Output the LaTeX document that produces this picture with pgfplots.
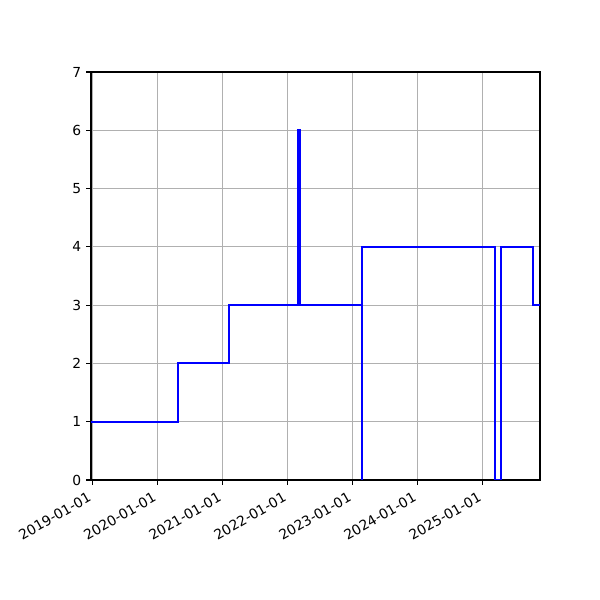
\documentclass[border=0pt]{standalone}
\usepackage{fontspec}
\setmainfont{DejaVu Sans}
\usepackage{pgfplots}
\pgfplotsset{compat=1.18}
\begin{document}
\begin{tikzpicture}
\path (0,0) rectangle (6in,6in);
\begin{axis}[
  at={(0.91in,1.20in)}, anchor=south west,
  scale only axis, width=4.49in, height=4.08in,
  xmin=-7, xmax=2515, ymin=0, ymax=7,
  xtick={0,365,731,1096,1461,1826,2192},
  xticklabels={2019-01-01,2020-01-01,2021-01-01,2022-01-01,2023-01-01,2024-01-01,2025-01-01},
  ytick={0,1,...,7},
  x tick label style={rotate=30, anchor=north east, xshift=-3.5pt, inner sep=2pt, font=\fontsize{10}{12}\selectfont},
  y tick label style={font=\fontsize{10}{12}\selectfont},
  /pgf/number format/assume math mode=true,
  grid=major, grid style={color=black!31, line width=0.8pt},
  axis line style={line width=0.8pt},
  tick style={black, line width=0.8pt},
  tick align=outside, major tick length=3.5pt,
  xtick pos=bottom, ytick pos=left,
]
\addplot[const plot mark left, color=blue, line width=1.5pt] coordinates {
  (-7,1) (480,2) (768,3) (1157,6) (1166,3) (1514,0) (1517,4)
  (2261,0) (2298,4) (2474,3) (2515,3)
};
\end{axis}
\end{tikzpicture}
\end{document}
